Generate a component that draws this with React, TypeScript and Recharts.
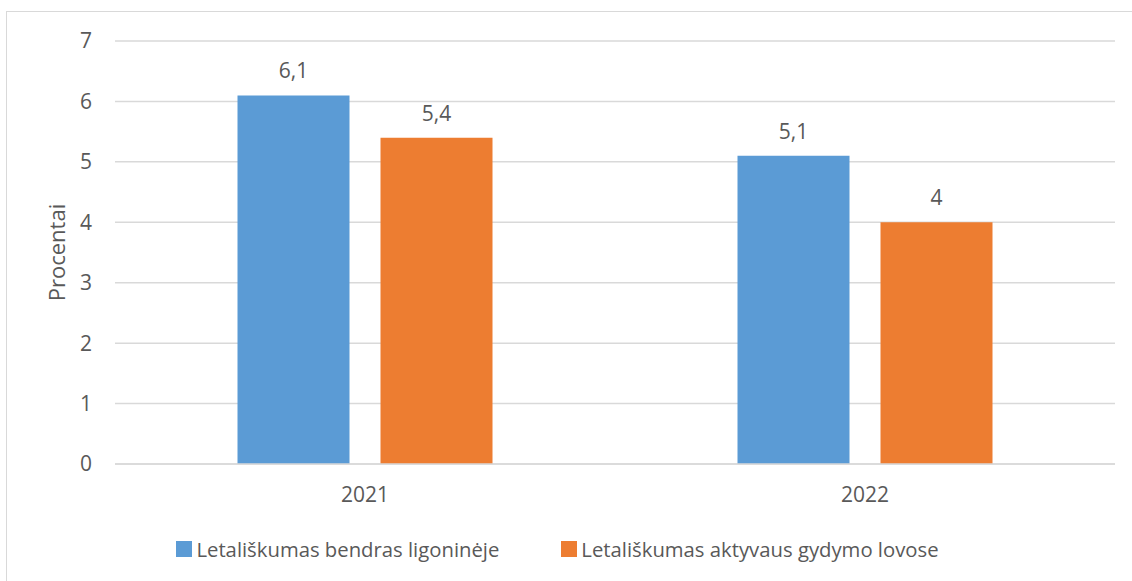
import { BarChart, Bar, XAxis, YAxis, CartesianGrid, Legend, LabelList } from 'recharts'

const years = ['2021', '2022']
const bendrasValues = [6.1, 5.1]
const aktyvausValues = [5.4, 4]
const yTicks = [0, 1, 2, 3, 4, 5, 6, 7]

const SERIES = [
  { key: 'bendras', name: 'Letališkumas bendras ligoninėje', color: '#5B9BD5' },
  { key: 'aktyvaus', name: 'Letališkumas aktyvaus gydymo lovose', color: '#ED7D31' },
]

const FONT = '"Open Sans", sans-serif'
const TEXT = '#595959'

const chartData = years.map((year, i) => ({
  year,
  bendras: bendrasValues[i],
  aktyvaus: aktyvausValues[i],
}))

const fmt = (v: unknown) => String(v).replace('.', ',')

function LegendBox() {
  return (
    <div style={{ display: 'flex', justifyContent: 'center', gap: 62, height: 24, alignItems: 'center', fontFamily: FONT, fontSize: 20.3, color: TEXT, whiteSpace: 'nowrap' }}>
      {SERIES.map((s) => (
        <div key={s.key} style={{ display: 'flex', alignItems: 'center' }}>
          <span style={{ width: 16, height: 16, background: s.color, display: 'inline-block', marginRight: 4 }} />
          {s.name}
        </div>
      ))}
    </div>
  )
}

export default function App() {
  return (
    <div style={{ position: 'fixed', left: 0, top: 0, width: 1132, height: 581, overflow: 'hidden', background: '#fff' }}>
      <div style={{ position: 'absolute', left: 6, top: 11, width: 1300, height: 800, border: '1px solid #d9d9d9' }} />
      <div style={{ position: 'absolute', left: 0, top: 0 }}>
        <BarChart
          width={1132}
          height={581}
          data={chartData}
          margin={{ top: 41, right: 17, bottom: 20, left: 0 }}
          barCategoryGap="24.5%"
          barGap={31}
        >
          <CartesianGrid vertical={false} stroke="#d9d9d9" strokeWidth={1.5} />
          <XAxis
            dataKey="year"
            height={73}
            tickLine={false}
            tickSize={0}
            tickMargin={23}
            axisLine={{ stroke: '#d9d9d9', strokeWidth: 1.5 }}
            tick={{ fill: TEXT, fontSize: 21, fontFamily: FONT }}
          />
          <YAxis
            width={115}
            domain={[0, 7]}
            ticks={yTicks}
            tickLine={false}
            tickSize={0}
            tickMargin={23}
            axisLine={false}
            tick={{ fill: TEXT, fontSize: 21, fontFamily: FONT }}
            label={{ value: 'Procentai', angle: -90, position: 'center', dx: 0, fill: TEXT, fontSize: 22, fontFamily: FONT }}
          />
          <Legend verticalAlign="bottom" content={() => <LegendBox />} />
          {SERIES.map((s) => (
            <Bar key={s.key} dataKey={s.key} name={s.name} fill={s.color} isAnimationActive={false}>
              <LabelList dataKey={s.key} position="top" offset={17} formatter={fmt} fill={TEXT} fontSize={21} fontFamily={FONT} />
            </Bar>
          ))}
        </BarChart>
      </div>
    </div>
  )
}
